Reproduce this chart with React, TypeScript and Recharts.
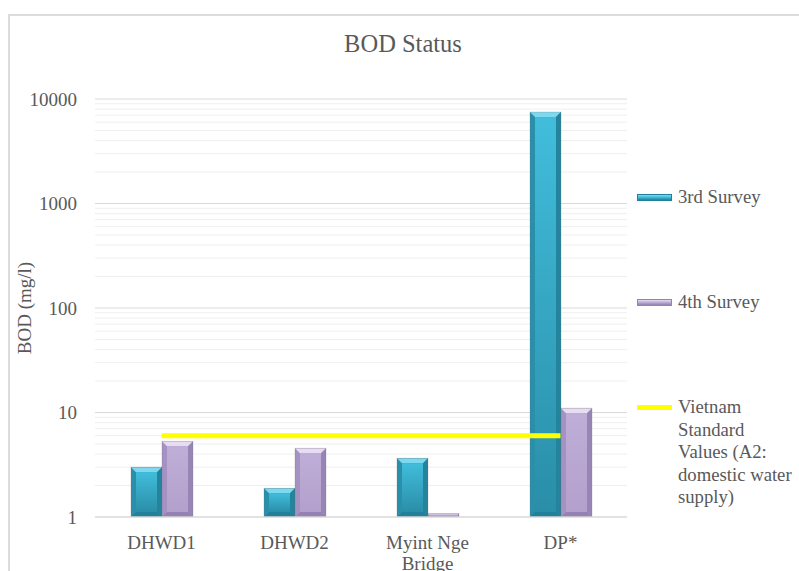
import React from "react";
import {
  ComposedChart,
  Bar,
  Line,
  XAxis,
  YAxis,
  CartesianGrid,
} from "recharts";

const categories = ["DHWD1", "DHWD2", "Myint Nge Bridge", "DP*"];
const survey3 = [3.0, 1.88, 3.65, 7500];
const survey4 = [5.3, 4.55, 1.08, 11];
const standardA2 = [6, 6, 6, 6];

const yTicks = [
  1, 2, 3, 4, 5, 6, 7, 8, 9,
  10, 20, 30, 40, 50, 60, 70, 80, 90,
  100, 200, 300, 400, 500, 600, 700, 800, 900,
  1000, 2000, 3000, 4000, 5000, 6000, 7000, 8000, 9000,
  10000,
];
const majorTicks = [10, 100, 1000, 10000];
const minorTicks = yTicks.filter((v) => v !== 1 && !majorTicks.includes(v));

const seriesNames = {
  s3: "3rd Survey",
  s4: "4th Survey",
  std: "Vietnam Standard Values (A2: domestic water supply)",
};

const data = categories.map((name, i) => ({
  name,
  s3: survey3[i],
  s4: survey4[i],
  std: standardA2[i],
}));

const FONT = "Liberation Serif, DejaVu Serif, serif";
const TEXT = "#595959";

type Bevel = { top: string; bottom: string; hi: string; side: string; low: string };

const teal: Bevel = { top: "#41bddb", bottom: "#2a8ea8", hi: "#7fd9ee", side: "#2a8faa", low: "#23809a" };
const lilac: Bevel = { top: "#bfaed8", bottom: "#b3a0cc", hi: "#e6ddf2", side: "#a592c3", low: "#9482b2" };

function makeBevel(c: Bevel, key: string) {
  return (props: any) => {
    const { x, y, width: w, height: h, index } = props;
    if (!h || h <= 0) return <g />;
    const b = Math.min(5, h / 3, w / 4);
    const id = `grad-${key}-${index}`;
    return (
      <g>
        <defs>
          <linearGradient id={id} x1="0" y1="0" x2="0" y2="1">
            <stop offset="0%" stopColor={c.top} />
            <stop offset="100%" stopColor={c.bottom} />
          </linearGradient>
        </defs>
        <rect x={x} y={y} width={w} height={h} fill={c.side} />
        <polygon points={`${x},${y} ${x + w},${y} ${x + w - b},${y + b} ${x + b},${y + b}`} fill={c.hi} />
        <polygon points={`${x},${y + h} ${x + w},${y + h} ${x + w - b},${y + h - b} ${x + b},${y + h - b}`} fill={c.low} />
        <polygon points={`${x + w},${y} ${x + w},${y + h} ${x + w - b},${y + h - b} ${x + w - b},${y + b}`} fill={c.low} opacity={0.8} />
        <rect x={x + b} y={y + b} width={w - 2 * b} height={Math.max(0, h - 2 * b)} fill={`url(#${id})`} />
        <rect x={x} y={y} width={w} height={h} fill="none" stroke="#6f6f6f" strokeOpacity={0.3} strokeWidth={0.8} />
      </g>
    );
  };
}

function CategoryTick(props: any) {
  const { x, y, payload } = props;
  const words = String(payload.value).split(" ");
  const lines: string[] = [];
  let cur = "";
  words.forEach((wd) => {
    const next = cur ? cur + " " + wd : wd;
    if (next.length > 10 && cur) {
      lines.push(cur);
      cur = wd;
    } else cur = next;
  });
  if (cur) lines.push(cur);
  return (
    <text x={x} y={y + 30} textAnchor="middle" fill={TEXT} style={{ fontFamily: FONT, fontSize: 19 }}>
      {lines.map((ln, i) => (
        <tspan key={i} x={x} dy={i === 0 ? 0 : 21}>
          {ln}
        </tspan>
      ))}
    </text>
  );
}

function LegendBox() {
  const items = [
    { name: seriesNames.s3, kind: "bar", c: teal },
    { name: seriesNames.s4, kind: "bar", c: lilac },
    { name: seriesNames.std, kind: "line", c: null },
  ];
  return (
    <div style={{ fontFamily: FONT, fontSize: 18.7, color: TEXT, lineHeight: "22.5px" }}>
      {items.map((it, i) => (
        <div key={i} style={{ position: "relative", height: 105 }}>
          {it.kind === "bar" ? (
            <div
              style={{
                position: "absolute",
                left: 0,
                top: 8,
                width: 35,
                height: 7,
                background: `linear-gradient(180deg, ${it.c!.hi}, ${it.c!.top} 45%, ${it.c!.low})`,
                border: `1px solid ${it.c!.low}`,
                boxSizing: "border-box",
              }}
            />
          ) : (
            <div style={{ position: "absolute", left: 0, top: 9, width: 35, height: 5, background: "#ffff00" }} />
          )}
          <div style={{ position: "absolute", left: 41, top: 0, width: 120 }}>{it.name}</div>
        </div>
      ))}
    </div>
  );
}

export default function App() {
  return (
    <div style={{ position: "absolute", left: 0, top: 0, width: 799, height: 571, overflow: "hidden", background: "#fff" }}>
      <div
        style={{
          position: "absolute",
          left: 8,
          top: 14,
          width: 800,
          height: 620,
          border: "2px solid #dcdcdc",
          boxSizing: "border-box",
        }}
      />
      <svg style={{ position: "absolute", left: 0, top: 0 }} width={799} height={80}>
        <text x={403} y={52} textAnchor="middle" fill={TEXT} style={{ fontFamily: FONT, fontSize: 24.5 }}>
          BOD Status
        </text>
      </svg>
      <div style={{ position: "absolute", left: 0, top: 0 }}>
        <ComposedChart
          width={799}
          height={571}
          data={data}
          margin={{ top: 99, right: 172, bottom: 14, left: 18 }}
          barGap={0}
        >
          <CartesianGrid vertical={false} horizontalValues={minorTicks} stroke="#efefef" strokeWidth={1} />
          <CartesianGrid vertical={false} horizontalValues={majorTicks} stroke="#d9d9d9" strokeWidth={1} />
          <XAxis
            dataKey="name"
            height={40}
            tickLine={false}
            tickSize={0}
            axisLine={{ stroke: "#d9d9d9", strokeWidth: 1.5 }}
            tick={<CategoryTick />}
            interval={0}
          />
          <YAxis
            scale="log"
            domain={[1, 10000]}
            ticks={yTicks}
            interval={0}
            allowDataOverflow
            width={77}
            axisLine={false}
            tickLine={false}
            tickSize={0}
            tickMargin={18}
            tickFormatter={(v: number) => (majorTicks.includes(v) || v === 1 ? String(v) : "")}
            tick={{ fill: TEXT, style: { fontFamily: FONT, fontSize: 19 } }}
            label={{
              value: "BOD (mg/l)",
              angle: -90,
              position: "insideLeft",
              offset: 6,
              style: { textAnchor: "middle", fill: TEXT, fontFamily: FONT, fontSize: 19 },
            }}
          />
          <Bar dataKey="s3" name={seriesNames.s3} barSize={31} isAnimationActive={false} shape={makeBevel(teal, "s3")} />
          <Bar dataKey="s4" name={seriesNames.s4} barSize={31} isAnimationActive={false} shape={makeBevel(lilac, "s4")} />
          <Line
            dataKey="std"
            name={seriesNames.std}
            stroke="#ffff00"
            strokeWidth={5}
            dot={false}
            activeDot={false}
            isAnimationActive={false}
          />
        </ComposedChart>
      </div>
      <div style={{ position: "absolute", left: 637, top: 186, width: 162 }}>
        <LegendBox />
      </div>
    </div>
  );
}
